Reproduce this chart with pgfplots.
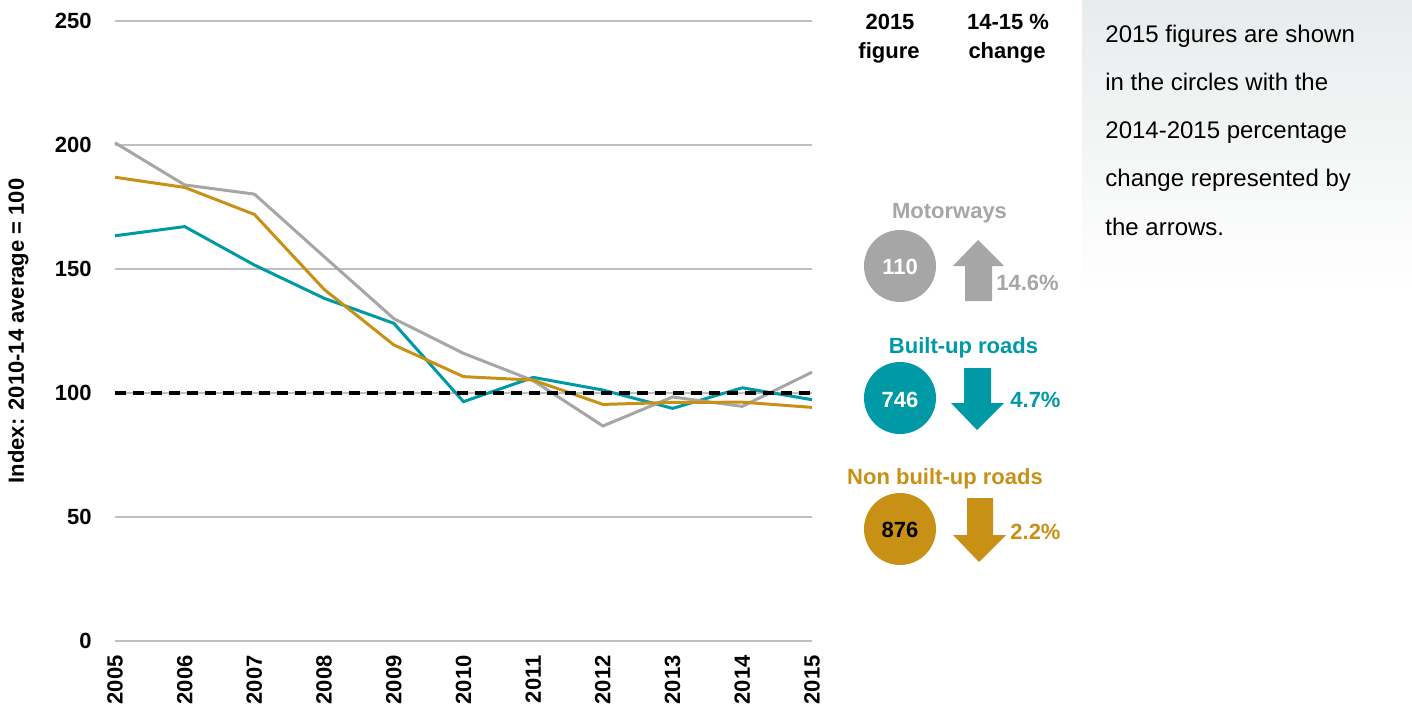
\documentclass[border=0pt]{standalone}
\usepackage{pgfplots}
\pgfplotsset{compat=1.18}
\usepackage{fontspec}
\setmainfont{Liberation Sans}
\definecolor{mgrey}{RGB}{166,166,166}
\definecolor{mteal}{RGB}{0,153,166}
\definecolor{mgold}{RGB}{200,145,22}
\definecolor{gridc}{RGB}{191,191,191}
\definecolor{boxtop}{RGB}{232,235,236}
\begin{document}
\begin{tikzpicture}
\path[use as bounding box] (0,0) rectangle (706pt,354pt);
% right-hand info box
\begin{scope}[x=0.5pt,y=-0.5pt,shift={(0pt,354pt)}]
\shade[top color=boxtop,bottom color=white] (1082,0) rectangle (1412,292);
\end{scope}
\begin{axis}[
  at={(57.5pt,33.5pt)}, anchor=south west,
  scale only axis, width=348.5pt, height=310pt,
  xmin=2005, xmax=2015, ymin=0, ymax=250,
  xtick={2005,2006,...,2015}, ytick={0,50,...,250},
  axis line style={draw=none},
  ymajorgrids, grid style={gridc,line width=0.7pt},
  major tick length=0pt,
  tick style={draw=none},
  /pgf/number format/assume math mode=true,
  /pgf/number format/set thousands separator={},
  tick label style={font=\fontsize{11}{13}\selectfont\bfseries},
  xticklabel style={rotate=90,anchor=east,inner sep=0pt},
  xticklabel shift=7pt,
  yticklabel style={anchor=east,inner sep=0pt},
  yticklabel shift=11.5pt,
  ylabel={Index: 2010-14 average = 100},
  every axis y label/.style={at={(axis description cs:-0.139,0.5)},rotate=90,anchor=center,font=\fontsize{11}{13}\selectfont\bfseries},
  clip=false,
]
\addplot[mteal,line width=1.5pt] coordinates {(2005,163.4)(2006,167.1)(2007,151.6)(2008,138.2)(2009,128.1)(2010,96.5)(2011,106.3)(2012,101.2)(2013,93.8)(2014,102.1)(2015,97.3)};
\addplot[mgrey,line width=1.5pt] coordinates {(2005,200.9)(2006,183.9)(2007,180.2)(2008,155)(2009,130)(2010,116)(2011,105)(2012,86.7)(2013,98.4)(2014,94.6)(2015,108.4)};
\addplot[mgold,line width=1.5pt] coordinates {(2005,187)(2006,182.9)(2007,172)(2008,141.8)(2009,119.4)(2010,106.6)(2011,105.2)(2012,95.4)(2013,96.2)(2014,96.3)(2015,94.2)};
\addplot[black,line width=1.6pt,dash pattern=on 5.5pt off 3.5pt] coordinates {(2005,100)(2015,100)};
\end{axis}
\begin{scope}[x=0.5pt,y=-0.5pt,shift={(0pt,354pt)},font=\fontsize{11}{13}\selectfont\bfseries]
% headers
\node[anchor=base] at (890,30) {2015};
\node[anchor=base] at (889,59) {figure};
\node[anchor=base] at (1008,30) {14-15 \%};
\node[anchor=base] at (1007,59) {change};
% Motorways
\node[anchor=base,text=mgrey] at (949.5,219) {Motorways};
\fill[mgrey] (900,266) circle[radius=36];
\node[text=white] at (900,266.5) {110};
\fill[mgrey] (965,301) -- (992,301) -- (992,266) -- (1004,266) -- (978,240) -- (953,266) -- (965,266) -- cycle;
\node[anchor=west,inner sep=0pt,text=mgrey] at (996,283) {14.6\%};
% Built-up roads
\node[anchor=base,text=mteal] at (963.5,353) {Built-up roads};
\fill[mteal] (900,398) circle[radius=36];
\node[text=white] at (900,399.5) {746};
\fill[mteal] (964,368) -- (991,368) -- (991,403) -- (1004,403) -- (977,430) -- (951,403) -- (964,403) -- cycle;
\node[anchor=west,inner sep=0pt,text=mteal] at (1010,400) {4.7\%};
% Non built-up roads
\node[anchor=base,text=mgold] at (945,484) {Non built-up roads};
\fill[mgold] (900,529) circle[radius=36];
\node[text=black] at (900,529.5) {876};
\fill[mgold] (967,498) -- (993,498) -- (993,535) -- (1006,535) -- (979,562) -- (953,535) -- (967,535) -- cycle;
\node[anchor=west,inner sep=0pt,text=mgold] at (1010,532) {2.2\%};
\end{scope}
\begin{scope}[x=0.5pt,y=-0.5pt,shift={(0pt,354pt)},font=\fontsize{12}{14}\selectfont]
\node[anchor=base west,inner sep=0pt] at (1105,43) {2015 figures are shown};
\node[anchor=base west,inner sep=0pt] at (1105,91) {in the circles with the};
\node[anchor=base west,inner sep=0pt] at (1105,139) {2014-2015 percentage};
\node[anchor=base west,inner sep=0pt] at (1105,187) {change represented by};
\node[anchor=base west,inner sep=0pt] at (1105,235) {the arrows.};
\end{scope}
\end{tikzpicture}
\end{document}
